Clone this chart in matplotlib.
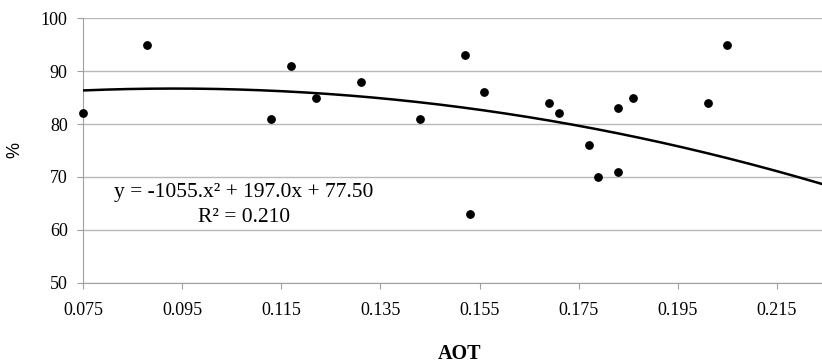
import numpy as np
import matplotlib
matplotlib.use("Agg")
import matplotlib.pyplot as plt

aot = [0.075, 0.088, 0.113, 0.117, 0.122, 0.131, 0.143, 0.152, 0.153, 0.156,
       0.169, 0.171, 0.177, 0.179, 0.183, 0.183, 0.186, 0.201, 0.205]
pct = [82, 95, 81, 91, 85, 88, 81, 93, 63, 86,
       84, 82, 76, 70, 83, 71, 85, 84, 95]
coef = [-1055.0, 197.0, 77.50]
xticks = [0.075, 0.095, 0.115, 0.135, 0.155, 0.175, 0.195, 0.215]
yticks = [50, 60, 70, 80, 90, 100]

plt.rcParams['font.family'] = ['Liberation Serif', 'DejaVu Serif']

fig = plt.figure(figsize=(8.22, 3.63), dpi=100)
ax = fig.add_axes([0.101, 0.221, 0.899, 0.729])

xmax = 0.2241
ax.set_xlim(0.075, xmax)
ax.set_ylim(50, 100)
ax.set_xticks(xticks)
ax.set_xticklabels([f"{t:.3f}" for t in xticks])
ax.set_yticks(yticks)
ax.grid(axis='y', color='#b8b8b8', linewidth=1.0)
ax.set_axisbelow(True)
for s in ['top', 'right']:
    ax.spines[s].set_visible(False)
for s in ['left', 'bottom']:
    ax.spines[s].set_color('#a0a0a0')
ax.tick_params(axis='both', colors='#a0a0a0', labelcolor='black', labelsize=13, length=4)
ax.tick_params(axis='x', pad=10)
ax.tick_params(axis='y', pad=7)

xs = np.linspace(0.075, xmax, 300)
ax.plot(xs, np.polyval(coef, xs), color='black', linewidth=1.8, zorder=3)
ax.scatter(aot, pct, s=28, color='black', zorder=4, clip_on=False)

ax.text(0.218, 0.343, "y = -1055.x² + 197.0x + 77.50", transform=ax.transAxes,
        ha='center', va='center', fontsize=15.5)
ax.text(0.218, 0.248, "R² = 0.210", transform=ax.transAxes,
        ha='center', va='center', fontsize=15.5)

fig.text(460/822, 1 - 354/363, "AOT", ha='center', va='center', fontsize=14.5, fontweight='bold')
fig.text(15/822, 1 - 150/363, "%", ha='center', va='center', fontsize=13, rotation=90,
         family=['Liberation Sans', 'DejaVu Sans'])

fig.savefig("out.png", dpi=100)
